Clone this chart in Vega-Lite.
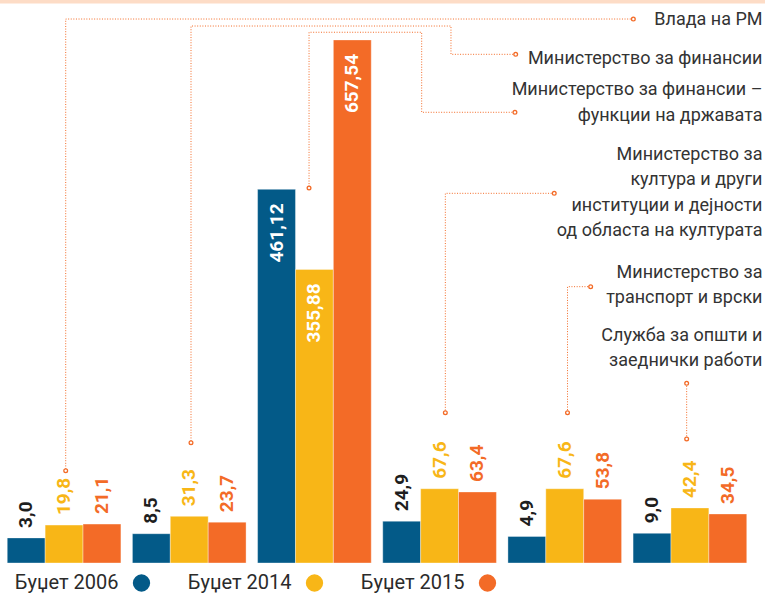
{
  "$schema": "https://vega.github.io/schema/vega-lite/v6.json",
  "width": 751,
  "height": 563,
  "autosize": {"type": "none"},
  "padding": {"left": 1.5, "right": 12.5, "top": 0, "bottom": 30},
  "background": "white",
  "config": {
    "view": {"stroke": null},
    "font": "Roboto",
    "locale": {"number": {"decimal": ",", "thousands": ".", "grouping": [3], "currency": ["", ""]}}
  },
  "datasets": {
    "budget": [
      {"category": "Влада на РМ", "series": "Буџет 2006", "value": 3.0},
      {"category": "Влада на РМ", "series": "Буџет 2014", "value": 19.8},
      {"category": "Влада на РМ", "series": "Буџет 2015", "value": 21.1},
      {"category": "Министерство за финансии", "series": "Буџет 2006", "value": 8.5},
      {"category": "Министерство за финансии", "series": "Буџет 2014", "value": 31.3},
      {"category": "Министерство за финансии", "series": "Буџет 2015", "value": 23.7},
      {"category": "Министерство за финансии – функции на државата", "series": "Буџет 2006", "value": 461.12},
      {"category": "Министерство за финансии – функции на државата", "series": "Буџет 2014", "value": 355.88},
      {"category": "Министерство за финансии – функции на државата", "series": "Буџет 2015", "value": 657.54},
      {"category": "Министерство за култура и други институции и дејности од областа на културата", "series": "Буџет 2006", "value": 24.9},
      {"category": "Министерство за култура и други институции и дејности од областа на културата", "series": "Буџет 2014", "value": 67.6},
      {"category": "Министерство за култура и други институции и дејности од областа на културата", "series": "Буџет 2015", "value": 63.4},
      {"category": "Министерство за транспорт и врски", "series": "Буџет 2006", "value": 4.9},
      {"category": "Министерство за транспорт и врски", "series": "Буџет 2014", "value": 67.6},
      {"category": "Министерство за транспорт и врски", "series": "Буџет 2015", "value": 53.8},
      {"category": "Служба за општи и заеднички работи", "series": "Буџет 2006", "value": 9.0},
      {"category": "Служба за општи и заеднички работи", "series": "Буџет 2014", "value": 42.4},
      {"category": "Служба за општи и заеднички работи", "series": "Буџет 2015", "value": 34.5}
    ],
    "labels": [
      {"category": "Влада на РМ", "lines": ["Влада на РМ"], "x": 6.08, "y": 683.3},
      {"category": "Министерство за финансии", "lines": ["Министерство за финансии"], "x": 6.08, "y": 632.0},
      {"category": "Министерство за финансии – функции на државата", "lines": ["Министерство за финансии –", "функции на државата"], "x": 6.08, "y": 591.7},
      {"category": "Министерство за култура и други институции и дејности од областа на културата", "lines": ["Министерство за", "култура и други", "институции и дејности", "од областа на културата"], "x": 6.08, "y": 506.3},
      {"category": "Министерство за транспорт и врски", "lines": ["Министерство за", "транспорт и врски"], "x": 6.08, "y": 351.8},
      {"category": "Служба за општи и заеднички работи", "lines": ["Служба за општи и", "заеднички работи"], "x": 6.08, "y": 268.4}
    ],
    "leaders": [
      {"category": "Влада на РМ", "step": 0, "x": 5.048, "y": 685.0, "end": true},
      {"category": "Влада на РМ", "step": 1, "x": 0.513, "y": 685.0, "end": false},
      {"category": "Влада на РМ", "step": 2, "x": 0.513, "y": 91.3, "end": true},
      {"category": "Министерство за финансии", "step": 0, "x": 4.108, "y": 638.6, "end": true},
      {"category": "Министерство за финансии", "step": 1, "x": 3.591, "y": 638.6, "end": false},
      {"category": "Министерство за финансии", "step": 2, "x": 3.591, "y": 675.8, "end": false},
      {"category": "Министерство за финансии", "step": 3, "x": 1.514, "y": 675.8, "end": false},
      {"category": "Министерство за финансии", "step": 4, "x": 1.514, "y": 128.1, "end": true},
      {"category": "Министерство за финансии – функции на државата", "step": 0, "x": 4.102, "y": 562.4, "end": true},
      {"category": "Министерство за финансии – функции на државата", "step": 1, "x": 3.357, "y": 562.4, "end": false},
      {"category": "Министерство за финансии – функции на државата", "step": 2, "x": 3.357, "y": 667.6, "end": false},
      {"category": "Министерство за финансии – функции на државата", "step": 3, "x": 2.457, "y": 667.6, "end": false},
      {"category": "Министерство за финансии – функции на државата", "step": 4, "x": 2.457, "y": 462.9, "end": true},
      {"category": "Министерство за култура и други институции и дејности од областа на културата", "step": 0, "x": 4.416, "y": 455.9, "end": true},
      {"category": "Министерство за култура и други институции и дејности од областа на културата", "step": 1, "x": 3.546, "y": 455.9, "end": false},
      {"category": "Министерство за култура и други институции и дејности од областа на културата", "step": 2, "x": 3.546, "y": 167.6, "end": true},
      {"category": "Министерство за транспорт и врски", "step": 0, "x": 4.707, "y": 333.2, "end": true},
      {"category": "Министерство за транспорт и врски", "step": 1, "x": 4.522, "y": 333.2, "end": false},
      {"category": "Министерство за транспорт и врски", "step": 2, "x": 4.522, "y": 167.6, "end": true},
      {"category": "Служба за општи и заеднички работи", "step": 0, "x": 5.474, "y": 206.2, "end": true},
      {"category": "Служба за општи и заеднички работи", "step": 1, "x": 5.474, "y": 133.0, "end": true}
    ]
  },
  "layer": [
    {
      "data": {"values": [{"band": "top"}]},
      "mark": {"type": "rect", "color": "#fddcc6"},
      "encoding": {
        "x": {"datum": -0.02, "type": "quantitative", "scale": {"domain": [0, 6], "nice": false, "zero": false}, "axis": null},
        "x2": {"datum": 6.12},
        "y": {"datum": 712, "type": "quantitative", "scale": {"domain": [-30, 710], "nice": false, "zero": false}, "axis": null},
        "y2": {"datum": 705.4}
      }
    },
    {
      "data": {"name": "budget"},
      "mark": {"type": "bar", "stroke": "#ffffff", "strokeWidth": 0.6, "strokeOpacity": 0.6},
      "encoding": {
        "x": {"field": "category", "type": "nominal", "sort": null, "axis": null, "scale": {"domain": ["Влада на РМ", "Министерство за финансии", "Министерство за финансии – функции на државата", "Министерство за култура и други институции и дејности од областа на културата", "Министерство за транспорт и врски", "Служба за општи и заеднички работи"], "paddingInner": 0.092, "paddingOuter": 0.046}},
        "xOffset": {"field": "series", "type": "nominal", "sort": null, "scale": {"domain": ["Буџет 2006", "Буџет 2014", "Буџет 2015"], "paddingInner": 0, "paddingOuter": 0}},
        "y": {"field": "value", "type": "quantitative", "axis": null, "scale": {"domain": [-30, 710], "nice": false, "zero": false}},
        "y2": {"datum": -30},
        "color": {
          "field": "series", "type": "nominal", "sort": null,
          "scale": {"domain": ["Буџет 2006", "Буџет 2014", "Буџет 2015"], "range": ["#035a88", "#f8b617", "#f36b27"]},
          "legend": {
            "orient": "none", "legendX": 130, "legendY": 573, "direction": "horizontal", "title": null,
            "symbolType": "circle", "symbolSize": 300, "symbolStrokeWidth": 0,
            "labelFontSize": 20, "labelFont": "Roboto", "labelFontWeight": 400, "labelColor": "#2b2b2b",
            "labelAlign": "right", "labelOffset": -33, "columnPadding": 37, "labelLimit": 200
          }
        }
      }
    },
    {
      "data": {"name": "budget"},
      "transform": [{"filter": "datum.value < 300"}],
      "mark": {"type": "text", "angle": 270, "align": "left", "baseline": "middle", "dx": 10, "fontSize": 19, "fontWeight": "bold", "font": "Roboto"},
      "encoding": {
        "x": {"field": "category", "type": "nominal", "sort": null, "axis": null, "scale": {"domain": ["Влада на РМ", "Министерство за финансии", "Министерство за финансии – функции на државата", "Министерство за култура и други институции и дејности од областа на културата", "Министерство за транспорт и врски", "Служба за општи и заеднички работи"], "paddingInner": 0.092, "paddingOuter": 0.046}},
        "xOffset": {"field": "series", "type": "nominal", "sort": null, "scale": {"domain": ["Буџет 2006", "Буџет 2014", "Буџет 2015"], "paddingInner": 0, "paddingOuter": 0}},
        "y": {"field": "value", "type": "quantitative", "axis": null, "scale": {"domain": [-30, 710], "nice": false, "zero": false}},
        "text": {"field": "value", "type": "quantitative", "format": ".1f"},
        "color": {"field": "series", "type": "nominal", "sort": null, "scale": {"domain": ["Буџет 2006", "Буџет 2014", "Буџет 2015"], "range": ["#1e1e1e", "#f8b617", "#f36b27"]}, "legend": null}
      }
    },
    {
      "data": {"name": "budget"},
      "transform": [{"filter": "datum.value >= 300"}],
      "mark": {"type": "text", "angle": 270, "align": "right", "baseline": "middle", "dx": -14, "fontSize": 19, "fontWeight": "bold", "font": "Roboto", "color": "#ffffff"},
      "encoding": {
        "x": {"field": "category", "type": "nominal", "sort": null, "axis": null, "scale": {"domain": ["Влада на РМ", "Министерство за финансии", "Министерство за финансии – функции на државата", "Министерство за култура и други институции и дејности од областа на културата", "Министерство за транспорт и врски", "Служба за општи и заеднички работи"], "paddingInner": 0.092, "paddingOuter": 0.046}},
        "xOffset": {"field": "series", "type": "nominal", "sort": null, "scale": {"domain": ["Буџет 2006", "Буџет 2014", "Буџет 2015"], "paddingInner": 0, "paddingOuter": 0}},
        "y": {"field": "value", "type": "quantitative", "axis": null, "scale": {"domain": [-30, 710], "nice": false, "zero": false}},
        "text": {"field": "value", "type": "quantitative", "format": ".2f"}
      }
    },
    {
      "data": {"name": "leaders"},
      "mark": {"type": "line", "color": "#f36b27", "strokeWidth": 1, "strokeDash": [1, 1.6]},
      "encoding": {
        "x": {"field": "x", "type": "quantitative", "scale": {"domain": [0, 6], "nice": false, "zero": false}, "axis": null},
        "y": {"field": "y", "type": "quantitative", "scale": {"domain": [-30, 710], "nice": false, "zero": false}, "axis": null},
        "detail": {"field": "category"},
        "order": {"field": "step"}
      }
    },
    {
      "data": {"name": "leaders"},
      "transform": [{"filter": "datum.end"}],
      "mark": {"type": "point", "shape": "circle", "filled": true, "fill": "#ffffff", "stroke": "#f36b27", "strokeWidth": 1.3, "size": 14, "opacity": 1},
      "encoding": {
        "x": {"field": "x", "type": "quantitative", "scale": {"domain": [0, 6], "nice": false, "zero": false}, "axis": null},
        "y": {"field": "y", "type": "quantitative", "scale": {"domain": [-30, 710], "nice": false, "zero": false}, "axis": null}
      }
    },
    {
      "data": {"name": "labels"},
      "mark": {"type": "text", "align": "right", "baseline": "middle", "fontSize": 18, "fontWeight": 400, "lineHeight": 25.5, "font": "Roboto", "color": "#333333"},
      "encoding": {
        "x": {"field": "x", "type": "quantitative", "scale": {"domain": [0, 6], "nice": false, "zero": false}, "axis": null},
        "y": {"field": "y", "type": "quantitative", "scale": {"domain": [-30, 710], "nice": false, "zero": false}, "axis": null},
        "text": {"field": "lines"}
      }
    }
  ],
  "resolve": {"scale": {"x": "independent", "color": "independent"}}
}
